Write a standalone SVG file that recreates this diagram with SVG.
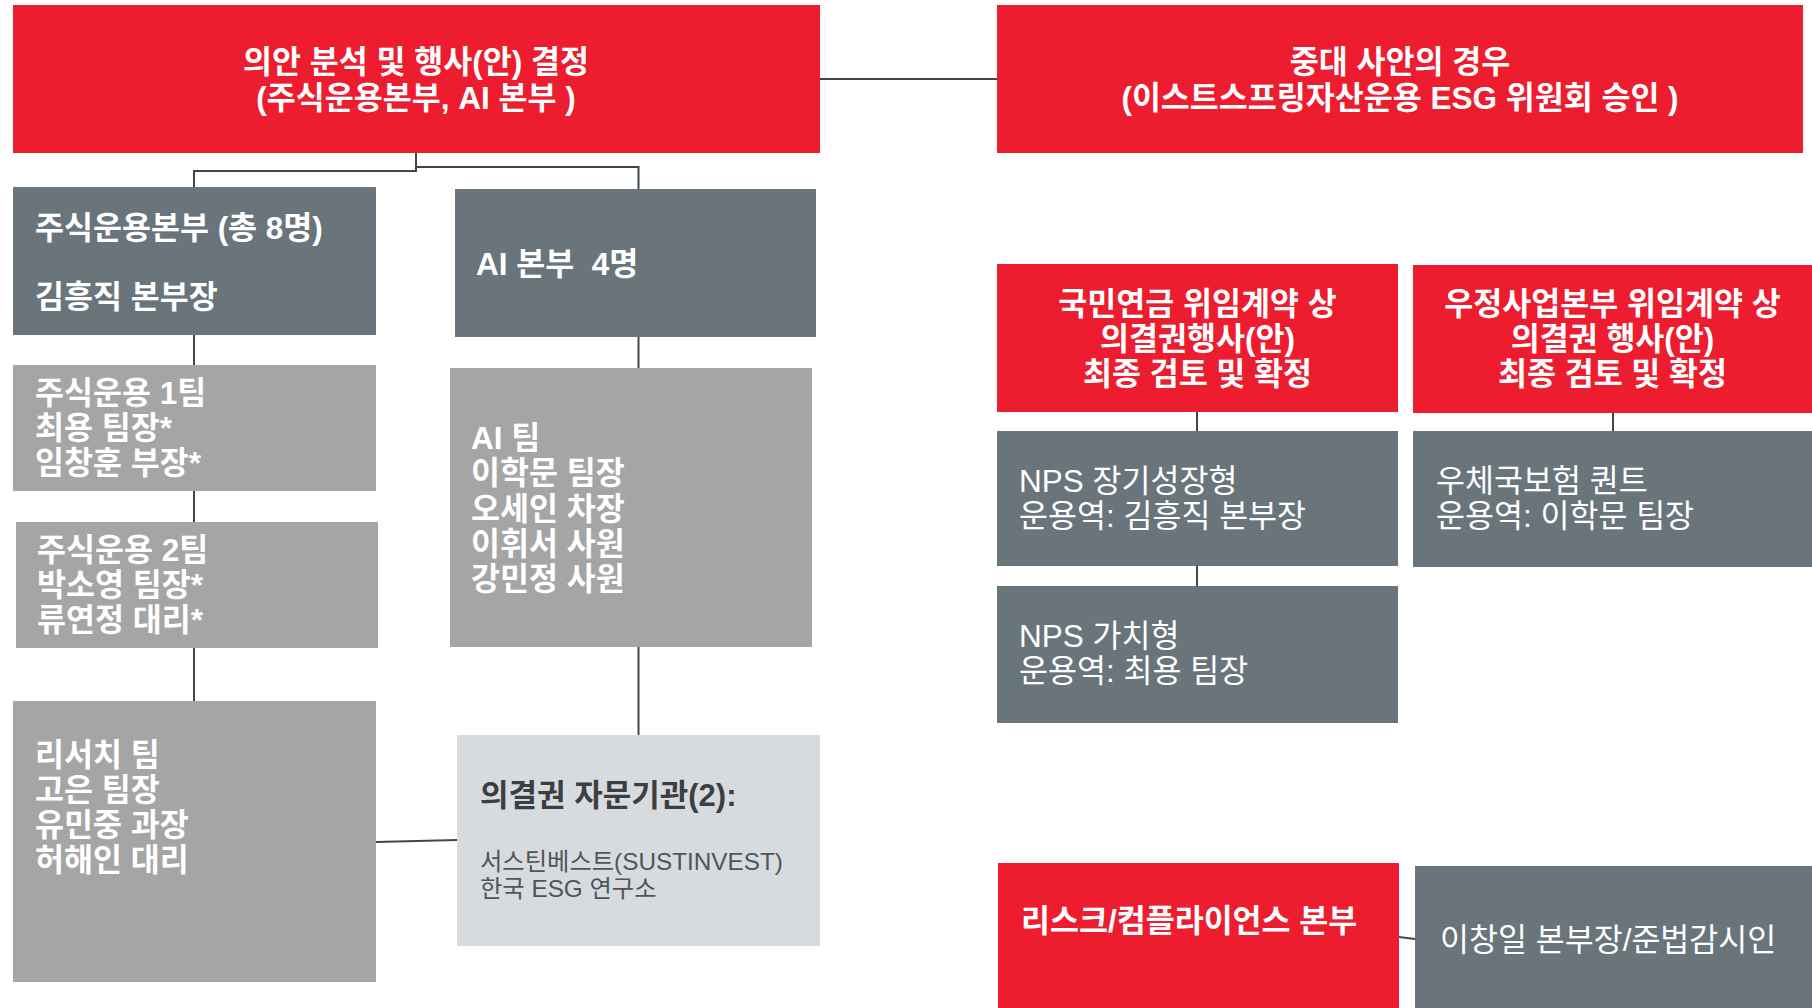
<svg xmlns="http://www.w3.org/2000/svg" width="1812" height="1008" viewBox="0 0 1812 1008">
<style>
text{font-family:"Liberation Sans","Noto Sans CJK KR",sans-serif;}
.red{fill:#ED1C2E;}
.slate{fill:#6A747B;}
.gray{fill:#A5A5A5;}
.light{fill:#D8DBDE;}
.tb{font-size:31.5px;font-weight:bold;fill:#fff;}
.tr{font-size:31.5px;fill:#fff;}
.c{text-anchor:middle;}
.dk{font-size:31px;font-weight:bold;fill:#3A3F43;}
.ds{font-size:24.3px;fill:#4F5559;}
.conn{fill:none;stroke:#3F474C;stroke-width:2;}
</style>
<rect width="1812" height="1008" fill="#fff"/>
<g id="connectors">
<path class="conn" d="M820,79 H997"/>
<path class="conn" d="M416,153 V171 H194 V187"/>
<path class="conn" d="M416,167 H638.5 V189"/>
<path class="conn" d="M194,335 V365"/>
<path class="conn" d="M194,491 V522"/>
<path class="conn" d="M194,648 V701"/>
<path class="conn" d="M638.5,337 V368"/>
<path class="conn" d="M638.5,647 V735"/>
<path class="conn" d="M376,842 L457,840"/>
<path class="conn" d="M1197,412 V431"/>
<path class="conn" d="M1613,413 V431"/>
<path class="conn" d="M1197,566 V586"/>
<path class="conn" d="M1399,937 L1415,939"/>
</g>
<g id="n-decision">
<rect class="red" x="13" y="5" width="807" height="148"/>
<text class="tb c" x="416" y="73">의안 분석 및 행사(안) 결정</text>
<text class="tb c" x="416" y="109">(주식운용본부, AI 본부 )</text>
</g>
<g id="n-major">
<rect class="red" x="997" y="5" width="806" height="148"/>
<text class="tb c" x="1400" y="73">중대 사안의 경우</text>
<text class="tb c" x="1400" y="109">(이스트스프링자산운용 ESG 위원회 승인 )</text>
</g>
<g id="n-equity">
<rect class="slate" x="13" y="187" width="363" height="148"/>
<text class="tb" x="35" y="239">주식운용본부 (총 8명)</text>
<text class="tb" x="35" y="308">김흥직 본부장</text>
</g>
<g id="n-ai">
<rect class="slate" x="455" y="189" width="361" height="148"/>
<text class="tb" x="476" y="275" xml:space="preserve">AI 본부  4명</text>
</g>
<g id="n-team1">
<rect class="gray" x="13" y="365" width="363" height="126"/>
<text class="tb" x="35" y="404">주식운용 1팀</text>
<text class="tb" x="35" y="439">최용 팀장*</text>
<text class="tb" x="35" y="474">임창훈 부장*</text>
</g>
<g id="n-aiteam">
<rect class="gray" x="450" y="368" width="362" height="279"/>
<text class="tb" x="471" y="449">AI 팀</text>
<text class="tb" x="471" y="484">이학문 팀장</text>
<text class="tb" x="471" y="520">오세인 차장</text>
<text class="tb" x="471" y="555">이휘서 사원</text>
<text class="tb" x="471" y="590">강민정 사원</text>
</g>
<g id="n-team2">
<rect class="gray" x="16" y="522" width="362" height="126"/>
<text class="tb" x="37" y="561">주식운용 2팀</text>
<text class="tb" x="37" y="596">박소영 팀장*</text>
<text class="tb" x="37" y="631">류연정 대리*</text>
</g>
<g id="n-research">
<rect class="gray" x="13" y="701" width="363" height="281"/>
<text class="tb" x="35" y="766">리서치 팀</text>
<text class="tb" x="35" y="801">고은 팀장</text>
<text class="tb" x="35" y="836">유민중 과장</text>
<text class="tb" x="35" y="871">허해인 대리</text>
</g>
<g id="n-advisor">
<rect class="light" x="457" y="735" width="363" height="211"/>
<text class="dk" x="480" y="806">의결권 자문기관(2):</text>
<text class="ds" x="480" y="870">서스틴베스트(SUSTINVEST)</text>
<text class="ds" x="480" y="897">한국 ESG 연구소</text>
</g>
<g id="n-nps">
<rect class="red" x="997" y="264" width="401" height="148"/>
<text class="tb c" x="1197.5" y="315">국민연금 위임계약 상</text>
<text class="tb c" x="1197.5" y="350">의결권행사(안)</text>
<text class="tb c" x="1197.5" y="385">최종 검토 및 확정</text>
</g>
<g id="n-post">
<rect class="red" x="1413" y="265" width="399" height="148"/>
<text class="tb c" x="1612.5" y="315">우정사업본부 위임계약 상</text>
<text class="tb c" x="1612.5" y="350">의결권 행사(안)</text>
<text class="tb c" x="1612.5" y="385">최종 검토 및 확정</text>
</g>
<g id="n-nps-growth">
<rect class="slate" x="997" y="431" width="401" height="135"/>
<text class="tr" x="1019" y="492">NPS 장기성장형</text>
<text class="tr" x="1019" y="527">운용역: 김흥직 본부장</text>
</g>
<g id="n-post-quant">
<rect class="slate" x="1413" y="431" width="399" height="136"/>
<text class="tr" x="1436" y="492">우체국보험 퀀트</text>
<text class="tr" x="1436" y="527">운용역: 이학문 팀장</text>
</g>
<g id="n-nps-value">
<rect class="slate" x="997" y="586" width="401" height="137"/>
<text class="tr" x="1019" y="647">NPS 가치형</text>
<text class="tr" x="1019" y="682">운용역: 최용 팀장</text>
</g>
<g id="n-risk">
<rect class="red" x="998" y="863" width="401" height="145"/>
<text class="tb" x="1021" y="932">리스크/컴플라이언스 본부</text>
</g>
<g id="n-compliance">
<rect class="slate" x="1415" y="866" width="397" height="142"/>
<text class="tr" x="1440" y="951">이창일 본부장/준법감시인</text>
</g>
</svg>
